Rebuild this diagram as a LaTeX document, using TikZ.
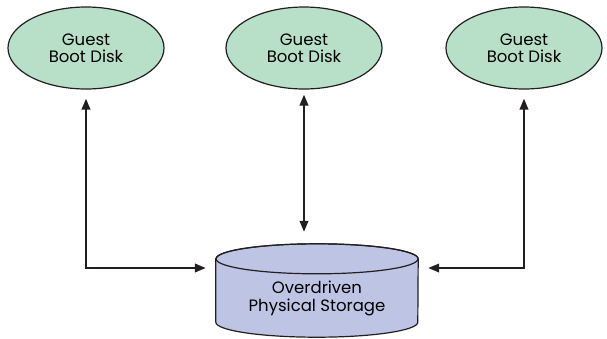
\documentclass[tikz,border=0pt]{standalone}
\usepackage{fontspec}
\setmainfont{Poppins}
\usetikzlibrary{arrows.meta,calc,shapes.geometric,backgrounds}
\definecolor{gfill}{RGB}{184,224,200}
\definecolor{cfill}{RGB}{190,196,228}
\definecolor{ink}{RGB}{35,31,32}
\begin{document}
\begin{tikzpicture}[x=1pt,y=1pt,
 disk/.style={ellipse,draw=ink,line width=1.2pt,fill=gfill,minimum width=156pt,minimum height=82pt,align=center,font=\fontsize{16.5}{17}\selectfont,inner sep=0pt},
 store/.style={rectangle,minimum width=202pt,minimum height=63pt,inner sep=0pt},
 label/.style={align=center,font=\fontsize{16.5}{18.5}\selectfont,inner sep=0pt},
 tip/.tip={Triangle[length=11pt,width=8.5pt]},
 arr/.style={draw=ink,line width=2.2pt,tip-tip}]
\useasboundingbox (0,0) rectangle (607,-338);
\node[disk] (g1) at (86,-48) {Guest\\Boot Disk};
\node[disk] (g2) at (304,-48) {Guest\\Boot Disk};
\node[disk] (g3) at (524,-48) {Guest\\Boot Disk};
\node[store] (st) at (317,-290.5) {};
\node[label] (stl) at ($(st.center)+(0,-8)$) {Overdriven\\Physical Storage};
\begin{scope}[on background layer]
\filldraw[fill=cfill,draw=ink,line width=1.2pt]
  (st.north west) -- (st.south west)
  arc[start angle=180,end angle=360,x radius=101,y radius=15]
  -- (st.north east)
  arc[start angle=0,end angle=180,x radius=101,y radius=15] -- cycle;
\draw[draw=ink,line width=1.2pt] (st.north) ellipse[x radius=101,y radius=15];
\end{scope}
\coordinate (sl) at ($(st.west)+(-10,22.5)$);
\coordinate (sr) at ($(st.east)+(10,22.5)$);
\coordinate (l1) at ($(g1.south)+(0,-9)$);
\coordinate (l3) at ($(g3.south)+(0,-9)$);
\coordinate (m1) at ($(g2.south)+(0,-5)$);
\coordinate (m2) at ($(g2.south |- st.north)+(0,27)$);
\draw[arr] (l1) |- (sl);
\draw[arr] (l3) |- (sr);
\draw[arr] (m1) -- (m2);
\end{tikzpicture}
\end{document}
